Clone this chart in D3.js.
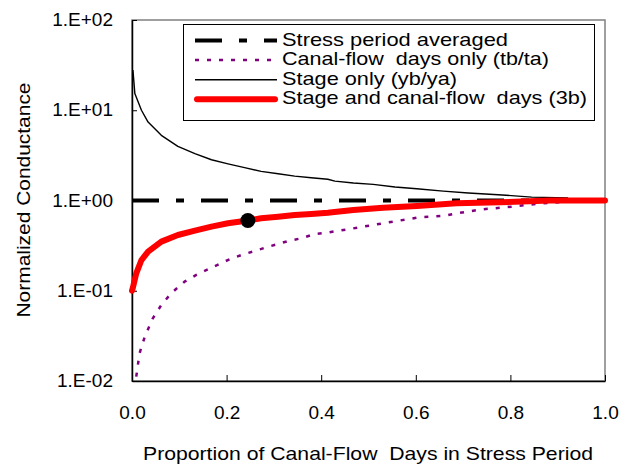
<!DOCTYPE html>
<html>
<head>
<meta charset="utf-8">
<script src="https://cdn.jsdelivr.net/npm/d3@7"></script>
<style>
  body { margin: 0; background: #fff; }
  text { font-family: "Liberation Sans", Arial, sans-serif; fill: #000; }
</style>
</head>
<body>
<svg id="chart"></svg>
<script>
// Chart frame (margin convention)
const width = 628;
const height = 464;
const margin = { top: 20, right: 23, bottom: 83, left: 132 };

// Tick values
const xTicks = [0, 0.2, 0.4, 0.6, 0.8, 1.0];
const yTicks = [0.01, 0.1, 1, 10, 100];
const yTickLabels = ["1.E-02", "1.E-01", "1.E+00", "1.E+01", "1.E+02"];

// Series: [proportion, normalized conductance]
const stressAveraged = [[0, 1], [1, 1]];

const canalFlowOnly = [
  [0.009, 0.0112], [0.016, 0.0203], [0.027, 0.031], [0.044, 0.0495],
  [0.062, 0.0695], [0.083, 0.094], [0.111, 0.126], [0.136, 0.15],
  [0.161, 0.173], [0.206, 0.223], [0.235, 0.253], [0.259, 0.275],
  [0.284, 0.303], [0.333, 0.359], [0.358, 0.381], [0.386, 0.425],
  [0.411, 0.44], [0.457, 0.48], [0.51, 0.536], [0.56, 0.593],
  [0.609, 0.652], [0.662, 0.68], [0.686, 0.72], [0.739, 0.798],
  [0.789, 0.84], [0.834, 0.891], [0.884, 0.946], [0.94, 0.98], [1.0, 1.0]
];

const stageOnly = [
  [0.002, 27.8], [0.006, 15.3], [0.02, 10.0], [0.034, 7.4], [0.062, 5.27],
  [0.097, 3.98], [0.133, 3.3], [0.168, 2.83], [0.203, 2.55], [0.238, 2.31],
  [0.273, 2.1], [0.309, 1.98], [0.344, 1.86], [0.379, 1.79], [0.414, 1.72],
  [0.429, 1.64], [0.468, 1.56], [0.51, 1.51], [0.556, 1.41], [0.602, 1.35],
  [0.658, 1.27], [0.711, 1.21], [0.774, 1.16], [0.845, 1.09], [0.922, 1.07]
];

const stageAndCanal = [
  [0.0, 0.1], [0.002, 0.109], [0.009, 0.156], [0.02, 0.219], [0.034, 0.271],
  [0.062, 0.35], [0.097, 0.415], [0.133, 0.463], [0.168, 0.513],
  [0.203, 0.559], [0.245, 0.6], [0.273, 0.635], [0.309, 0.661],
  [0.344, 0.69], [0.379, 0.708], [0.414, 0.733], [0.433, 0.752],
  [0.468, 0.785], [0.531, 0.832], [0.602, 0.868], [0.686, 0.93],
  [0.778, 0.955], [0.884, 1.0], [1.0, 1.0]
];

const markerPoint = [[0.245, 0.6]];

const legendLabels = [
  "Stress period averaged",
  "Canal-flow  days only (tb/ta)",
  "Stage only (yb/ya)",
  "Stage and canal-flow  days (3b)"
];
const legendWidths = [226, 267, 175, 305];

// Line styles
const styles = [
  { color: "#000000", width: 4, dash: "27,17,8,17", cap: "butt" },
  { color: "#800080", width: 2.5, dash: "4,8", cap: "butt" },
  { color: "#000000", width: 1.4, dash: null, cap: "butt" },
  { color: "#FF0000", width: 6, dash: null, cap: "round" }
];

function draw() {
  const svg = d3.select("#chart")
    .attr("width", width)
    .attr("height", height);

  const x = d3.scaleLinear()
    .domain([0, 1])
    .range([margin.left, width - margin.right]);

  const y = d3.scaleLog()
    .domain([0.01, 100])
    .range([height - margin.bottom, margin.top]);

  // plot area border (grey)
  svg.append("rect")
    .attr("x", x(0))
    .attr("y", y(100))
    .attr("width", x(1) - x(0))
    .attr("height", y(0.01) - y(100))
    .attr("fill", "none")
    .attr("stroke", "#808080")
    .attr("stroke-width", 1.5);

  // x axis
  const xAxis = svg.append("g")
    .attr("transform", "translate(0," + y(0.01) + ")")
    .call(d3.axisBottom(x).tickValues(xTicks).tickSizeInner(-6).tickSizeOuter(0).tickPadding(12)
      .tickFormat(d3.format(".1f")));
  xAxis.select(".domain").attr("stroke", "#000").attr("stroke-width", 1.5);
  xAxis.selectAll(".tick line").attr("stroke", "#000");
  xAxis.selectAll(".tick text")
    .attr("y", 38)
    .attr("dy", 0)
    .style("font-size", "19px")
    .attr("font-family", null);
  xAxis.attr("font-family", null).attr("font-size", null);

  // y axis
  const yAxis = svg.append("g")
    .attr("transform", "translate(" + x(0) + ",0)")
    .call(d3.axisLeft(y).tickValues(yTicks).tickSizeInner(-5).tickSizeOuter(0).tickPadding(19)
      .tickFormat((d, i) => yTickLabels[i]));
  yAxis.select(".domain").attr("stroke", "#000").attr("stroke-width", 1.5);
  yAxis.selectAll(".tick line").attr("stroke", "#000");
  yAxis.selectAll(".tick text")
    .attr("dy", "0.3em")
    .style("font-size", "19px");
  yAxis.attr("font-family", null).attr("font-size", null);

  // series
  const line = d3.line()
    .x((d) => x(d[0]))
    .y((d) => y(d[1]));

  const series = [stressAveraged, canalFlowOnly, stageOnly, stageAndCanal];

  svg.append("g").selectAll("path")
    .data(series)
    .enter()
    .append("path")
    .attr("d", line)
    .attr("fill", "none")
    .attr("stroke", (d, i) => styles[i].color)
    .attr("stroke-width", (d, i) => styles[i].width)
    .attr("stroke-dasharray", (d, i) => styles[i].dash)
    .attr("stroke-linecap", (d, i) => styles[i].cap)
    .attr("stroke-linejoin", "round");

  // marker
  svg.append("g").selectAll("circle")
    .data(markerPoint)
    .enter()
    .append("circle")
    .attr("cx", (d) => x(d[0]))
    .attr("cy", (d) => y(d[1]))
    .attr("r", 7.5)
    .attr("fill", "#000");

  // legend
  const legend = svg.append("g");
  legend.append("rect")
    .attr("x", 183.5)
    .attr("y", 24.5)
    .attr("width", 411)
    .attr("height", 96)
    .attr("fill", "#fff")
    .attr("stroke", "#000")
    .attr("stroke-width", 1);

  const rows = legend.selectAll(".legend-row")
    .data(legendLabels)
    .enter()
    .append("g")
    .attr("class", "legend-row")
    .attr("transform", (d, i) => "translate(0," + (40.5 + i * 19.6) + ")");

  rows.append("line")
    .attr("x1", (d, i) => i === 3 ? 197 : 195)
    .attr("x2", (d, i) => i === 3 ? 275 : 277)
    .attr("stroke", (d, i) => styles[i].color)
    .attr("stroke-width", (d, i) => styles[i].width)
    .attr("stroke-dasharray", (d, i) => styles[i].dash)
    .attr("stroke-linecap", (d, i) => styles[i].cap);

  rows.append("text")
    .attr("x", 282)
    .attr("y", 5)
    .style("font-size", "19px")
    .attr("textLength", (d, i) => legendWidths[i])
    .attr("lengthAdjust", "spacingAndGlyphs")
    .style("white-space", "pre")
    .text((d) => d);

  // axis titles
  svg.append("text")
    .attr("x", 368)
    .attr("y", 460)
    .attr("text-anchor", "middle")
    .style("font-size", "19px")
    .attr("textLength", 450)
    .attr("lengthAdjust", "spacingAndGlyphs")
    .style("white-space", "pre")
    .text("Proportion of Canal-Flow  Days in Stress Period");

  svg.append("text")
    .attr("transform", "translate(30,200) rotate(-90)")
    .attr("text-anchor", "middle")
    .style("font-size", "19px")
    .attr("textLength", 235)
    .attr("lengthAdjust", "spacingAndGlyphs")
    .text("Normalized Conductance");
}

draw();
</script>
</body>
</html>
